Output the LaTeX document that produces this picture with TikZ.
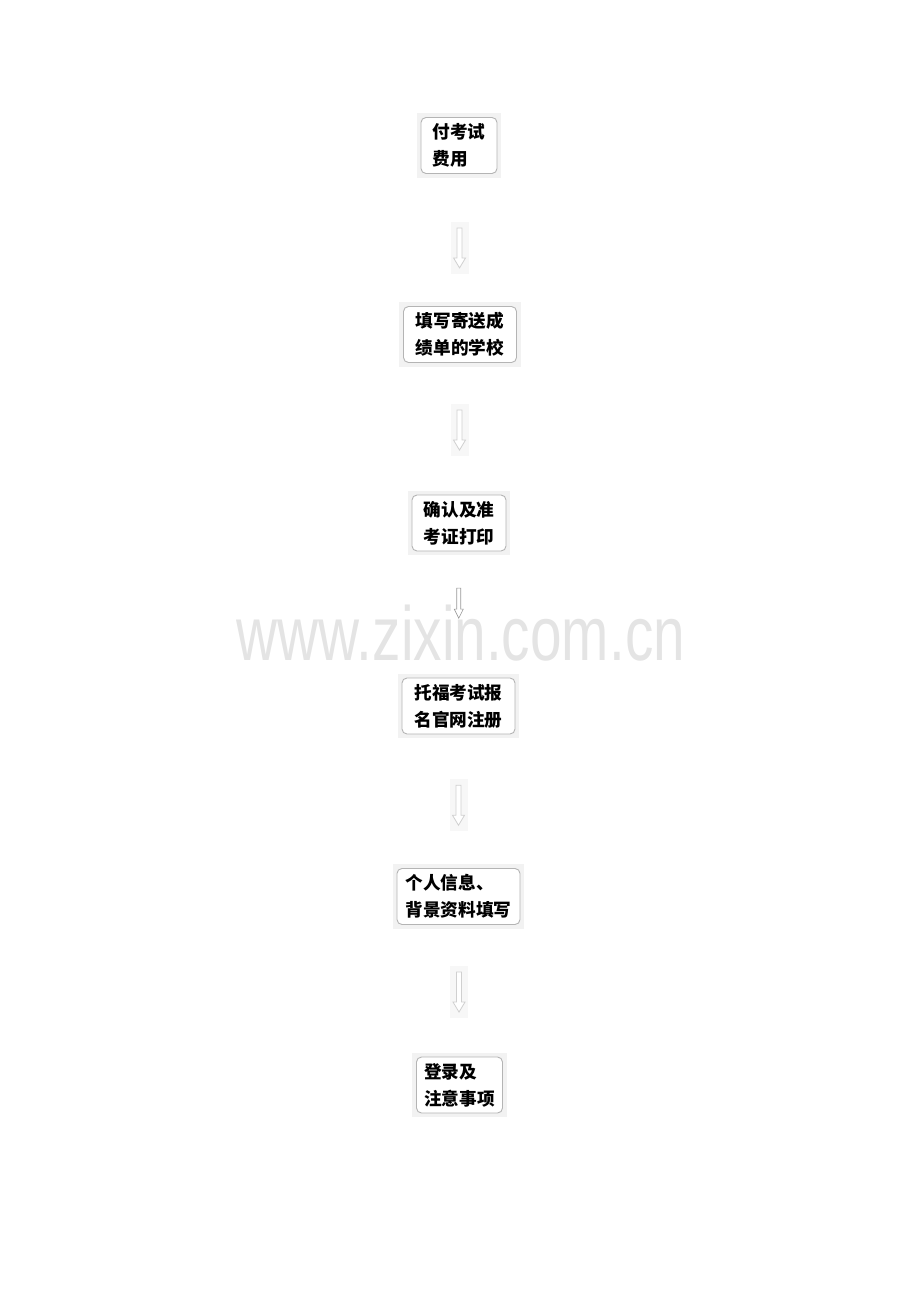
\documentclass[tikz,border=0pt]{standalone}
\usepackage{fontspec}
\newfontfamily\cjk{Noto Sans CJK SC}
\newfontfamily\wmfont{Liberation Sans}
\usepackage{tikz}
\usetikzlibrary{calc,positioning,backgrounds}
\definecolor{boxline}{HTML}{B4B4B4}
\definecolor{boxshade}{HTML}{F2F2F2}
\definecolor{arrline}{HTML}{D0D0D0}
\definecolor{wmgray}{HTML}{E4E4E4}

\begin{document}
\begin{tikzpicture}[x=1bp,y=-1bp,
  stage/.style={draw=boxline,line width=0.9bp,rounded corners=5bp,fill=white,
    align=left,inner xsep=6bp,minimum height=56bp,
    font=\cjk\bfseries\fontsize{17.7}{27}\selectfont},
  hollow/.style={draw=arrline,fill=white,line width=0.8bp,line join=miter},
  hollowdark/.style={hollow,draw=gray!80,line width=0.6bp}]
\useasboundingbox (0,0) rectangle (920,1302);
\node[font=\wmfont\fontsize{57}{57}\selectfont,text=wmgray,anchor=base,inner sep=0pt] (wm) at (461,660) {\scalebox{1}[1.35]{www.zixin.com.cn}};
\node[stage,minimum width=76bp] (p1) at (459,145.5) {付考试\\费用};
\node[stage,minimum width=113bp] (p2) at (460,334.5) {填写寄送成\\绩单的学校};
\node[stage,minimum width=94bp] (p3) at (459,523) {确认及准\\考证打印};
\node[stage,minimum width=113bp] (p4) at (458.5,706) {托福考试报\\名官网注册};
\node[stage,minimum width=123bp] (p5) at (458.5,896.5) {个人信息、\\背景资料填写};
\node[stage,minimum width=86bp] (p6) at (459.5,1085) {登录及\\注意事项};
\path
(p1) -- coordinate[pos=0.56] (a1) (p2)
(p2) -- coordinate[pos=0.51] (a2) (p3)
(p3) -- coordinate[pos=0.41] (a3) (p4)
(p4) -- coordinate[pos=0.53] (a4) (p5)
(p5) -- coordinate[pos=0.51] (a5) (p6);
% light arrows
\foreach \a in {a1,a2,a4,a5}
  \draw[hollow] ($(\a)+(-2.5,-20)$) -- ($(\a)+(2.5,-20)$) -- ($(\a)+(2.5,10)$) -- ($(\a)+(6,10)$)
    -- ($(\a)+(0,20)$) -- ($(\a)+(-6,10)$) -- ($(\a)+(-2.5,10)$) -- cycle;
% the dark one
\draw[hollowdark] ($(a3)+(-2,-15)$) -- ($(a3)+(2,-15)$) -- ($(a3)+(2,6)$) -- ($(a3)+(4.5,6)$)
    -- ($(a3)+(0,15)$) -- ($(a3)+(-4.5,6)$) -- ($(a3)+(-2,6)$) -- cycle;
\begin{scope}[on background layer]
\foreach \n in {p1,p2,p3,p4,p5,p6}
  \fill[boxshade] ($(\n.south west)+(-4,4)$) rectangle ($(\n.north east)+(4,-4)$);
\foreach \a in {a1,a2,a4,a5}
  \fill[boxshade!60] ($(\a)+(-9,-26)$) rectangle ($(\a)+(9,26)$);
\end{scope}
\end{tikzpicture}
\end{document}
